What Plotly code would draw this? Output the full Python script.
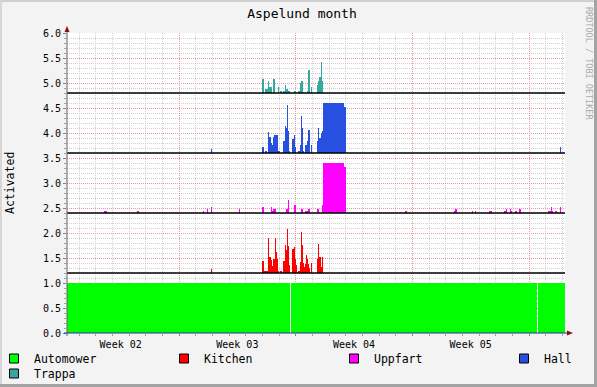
import numpy as np
import pandas as pd
import plotly.graph_objects as go

# ---------------- data ----------------
TITLE = "Aspelund month"
Y_TITLE = "Activated"
WATERMARK = "RRDTOOL / TOBI OETIKER"
WEEK_LABEL_FORMAT = "Week %V"

START = "2024-01-08 06:43"      # first sample of the month window
STEP_MINUTES = 86.4             # sample spacing
N_SAMPLES = 498

SERIES = ["Automower", "Kitchen", "Uppfart", "Hall", "Trappa"]
COLORS = ["#00FF00", "#FF0000", "#FF00FF", "#2850E0", "#35A8A0"]
OFFSETS = [0.0, 1.2, 2.4, 3.6, 4.8]
Y_TICK_FORMAT = ".1f"

# Automower: on (1.0) except these samples
automower_gap_samples = [223, 470]

# burst of activity (sample index of first value)
BURST_START = 195
trappa_burst = [.28, .28, 0, .08, .08, .08, .24, .12, .12, .12,
                0, .28, .28, 0, 0, 0, .12, 0, .04, .04,
                0, .04, .04, .16, .08, .08, .04, .04, 0, 0,
                0, 0, .04, .04, 0, 0, .04, .04, .2, .24,
                .24, 0, 0, 0, 0, .04, .46, .46, 0, .12,
                0, 0, 0, 0, 0, .16, .24, .32, .32, .62,
                .24] + [0] * 23
hall_burst = [.12, .12, 0, .04, .04, 0, .42, .32, .32, .2,
              .16, .32, .36, .36, .36, .36, .04, .04, 0, 0,
              0, .24, .24, .54, .5, .96, .44, .04, 0, 0,
              .28, .28, .36, .12, 0, 0, .04, .04, .16, .74,
              .5, .04, 0, .16, .16, .24, .46, .46, 0, .16,
              0, 0, 0, 0, 0, .24, .5, .3, .3, .4,
              .44] + [1.0] * 21 + [.92, .92]
uppfart_burst = [.12, .12, 0, 0, 0, 0, 0, 0, 0, .12,
                 .04, .08, .08, .08, 0, 0, 0, 0, 0, 0,
                 0, 0, 0, 0, .08, .08, .26, 0, 0, 0,
                 0, 0, .16, .16, 0, 0, 0, 0, 0, .08,
                 .08, 0, 0, .04, .04, .04, .08, .08, 0, 0,
                 0, 0, 0, 0, 0, .08, .08, 0, 0, 0,
                 .16] + [1.0] * 21 + [.92, .92]
kitchen_burst = [.24, .24, .04, .04, .04, .04, .7, .32, .32, .26,
                 .14, .28, .28, .7, .42, .28, .04, 0, .04, .04,
                 0, .24, .24, .56, .46, .88, .54, .16, 0, 0,
                 .48, .48, .52, .28, .16, 0, .04, .04, .22, .82,
                 .56, .2, .12, .18, .36, .28, .18, .1, 0, .2,
                 0, 0, 0, 0, 0, .28, .58, .32, .32, .12,
                 .32] + [0] * 23

# isolated activations outside the burst
hall_spike_samples = [144, 493]
hall_spike_values = [.08, .12]
kitchen_spike_samples = [144]
kitchen_spike_values = [.08]
trappa_spike_samples = []
trappa_spike_values = []
uppfart_spike_samples = [37, 38, 39, 70, 71, 136, 140, 144, 172, 338, 339,
                         387, 388, 389, 405, 408, 422, 423, 424, 437, 438,
                         439, 443, 444, 448, 449, 452, 453, 481, 482, 483,
                         484, 485, 488, 489, 493]
uppfart_spike_values = [.04, .04, .04, .04, .04, .04, .08, .12, .08, .04, .04,
                        .04, .08, .08, .04, .04, .04, .04, .04, .04, .04,
                        .08, .08, .04, .04, .04, .08, .08, .04, .04, .04,
                        .12, .04, .04, .04, .12]

# ---------------- geometry / style ----------------
W, H = 597, 387
ML, MR, MT, MB = 67, 32, 33, 54
PW, PH = W - ML - MR, H - MT - MB
FONT = "DejaVu Sans Mono"


def px(x):
    return (x - ML) / PW


def py(y):
    return (H - MB - y) / PH


times = pd.to_datetime(START) + pd.to_timedelta(np.arange(N_SAMPLES + 1) * STEP_MINUTES, unit="min")


def build(burst, spike_s, spike_v):
    v = np.zeros(N_SAMPLES)
    v[BURST_START:BURST_START + len(burst)] = burst
    for s, val in zip(spike_s, spike_v):
        v[s] = val
    return v


automower = np.ones(N_SAMPLES)
automower[automower_gap_samples] = 0.0
values = {
    "Automower": automower,
    "Kitchen": build(kitchen_burst, kitchen_spike_samples, kitchen_spike_values),
    "Uppfart": build(uppfart_burst, uppfart_spike_samples, uppfart_spike_values),
    "Hall": build(hall_burst, hall_spike_samples, hall_spike_values),
    "Trappa": build(trappa_burst, trappa_spike_samples, trappa_spike_values),
}

fig = go.Figure()
for name, color, off in zip(SERIES, COLORS, OFFSETS):
    v = values[name]
    yv = np.append(v, v[-1]) + off
    base = np.full(N_SAMPLES + 1, off)
    fig.add_trace(go.Scatter(x=times, y=base, mode="lines", line=dict(width=0, shape="hv"),
                             showlegend=False, hoverinfo="skip"))
    fig.add_trace(go.Scatter(x=times, y=yv, mode="lines", line=dict(width=0, shape="hv"),
                             fill="tonexty", fillcolor=color, showlegend=False, hoverinfo="skip"))

# legend entries (one legend per entry to reproduce rrdtool's legend grid)
legend_pos = {"Automower": (-6, 344), "Kitchen": (164, 344), "Uppfart": (334, 344),
              "Hall": (504, 344), "Trappa": (-6, 359)}
layout_legends = {}
for i, (name, color) in enumerate(zip(SERIES, COLORS)):
    key = "legend" if i == 0 else f"legend{i + 1}"
    fig.add_trace(go.Scatter(x=[None], y=[None], mode="markers", name=name, legend=key,
                             marker=dict(symbol="square", size=9, color=color,
                                         line=dict(color="black", width=1))))
    lx, ly = legend_pos[name]
    layout_legends[key] = dict(x=px(lx), y=1 - ly / H,
                               xref="paper", yref="container",
                               xanchor="left", yanchor="top",
                               orientation="h", bgcolor="rgba(0,0,0,0)", borderwidth=0,
                               font=dict(family=FONT, size=11.5, color="#000"))

shapes = []
# black base lines
for off in OFFSETS[1:]:
    shapes.append(dict(type="line", xref="paper", yref="y", x0=0, x1=1, y0=off, y1=off,
                       line=dict(color="black", width=1.3), layer="above"))
# axes
shapes.append(dict(type="line", xref="paper", yref="paper", x0=px(67), x1=px(67),
                   y0=py(336), y1=py(30), line=dict(color="#606060", width=1)))
shapes.append(dict(type="line", xref="paper", yref="paper", x0=px(64), x1=px(569),
                   y0=py(333), y1=py(333), line=dict(color="#2030A0", width=1)))
# arrows
shapes.append(dict(type="path", xref="paper", yref="paper",
                   path=f"M {px(67)},{py(26)} L {px(64.5)},{py(32)} L {px(69.5)},{py(32)} Z",
                   fillcolor="#8B1010", line=dict(width=0)))
shapes.append(dict(type="path", xref="paper", yref="paper",
                   path=f"M {px(573)},{py(333)} L {px(567)},{py(330.5)} L {px(567)},{py(335.5)} Z",
                   fillcolor="#8B1010", line=dict(width=0)))
# rrdtool frame
for x0, y0, x1, y1, c in [(0, 0, W, 2, "#CFCFCF"), (0, 0, 2, H, "#D6D6D6"),
                          (W - 3, 0, W, H, "#A3A3A3"), (0, H - 3, W, H, "#A3A3A3")]:
    shapes.append(dict(type="rect", xref="paper", yref="paper", x0=px(x0), x1=px(x1),
                       y0=py(y1), y1=py(y0), fillcolor=c, line=dict(width=0), layer="above"))

fig.update_layout(
    width=W, height=H,
    margin=dict(l=ML, r=MR, t=MT, b=MB, autoexpand=False),
    paper_bgcolor="#F3F3F3", plot_bgcolor="#FFFFFF",
    font=dict(family=FONT, size=10, color="#000"),
    title=dict(text=TITLE, x=302 / W, xanchor="center", y=1 - 13 / H, yanchor="middle",
               yref="container", font=dict(family=FONT, size=13, color="#000")),
    shapes=shapes,
    **layout_legends,
    annotations=[
        dict(text=Y_TITLE, xref="paper", yref="paper", x=px(10), y=py(183), showarrow=False,
             xanchor="center", yanchor="middle",
             textangle=-90, font=dict(family=FONT, size=11.5, color="#000")),
        dict(text=WATERMARK, xref="paper", yref="paper", x=px(589), y=py(63), showarrow=False,
             xanchor="center", yanchor="middle",
             textangle=90, font=dict(family=FONT, size=8.5, color="#ABABAB")),
    ],
)

fig.update_xaxes(
    type="date", range=[times[0], times[-1]], automargin=False,
    tick0="2024-01-15", dtick=7 * 86400000, ticklabelmode="period", tickformat=WEEK_LABEL_FORMAT,
    showgrid=True, gridcolor="#E49A9A", griddash="1px,1px", gridwidth=1,
    ticks="outside", ticklen=2, tickcolor="#808080",
    tickfont=dict(family=FONT, size=10, color="#000"),
    minor=dict(dtick=86400000, tick0="2024-01-15", showgrid=True, gridcolor="#CFCFCF",
               griddash="1px,1px", ticks="outside", ticklen=2, tickcolor="#A0A0A0"),
    showline=False, zeroline=False, fixedrange=True,
)
fig.update_yaxes(
    range=[0, 6], automargin=False, tick0=0, dtick=0.5, tickformat=Y_TICK_FORMAT,
    showgrid=True, gridcolor="#E49A9A", griddash="1px,1px", gridwidth=1,
    ticks="outside", ticklen=3, tickcolor="#808080",
    tickfont=dict(family=FONT, size=10, color="#000"),
    minor=dict(dtick=0.1, showgrid=True, gridcolor="#CFCFCF", griddash="1px,1px",
               ticks="outside", ticklen=2, tickcolor="#A0A0A0"),
    showline=False, zeroline=False, fixedrange=True,
)

fig.write_html("out.html")
